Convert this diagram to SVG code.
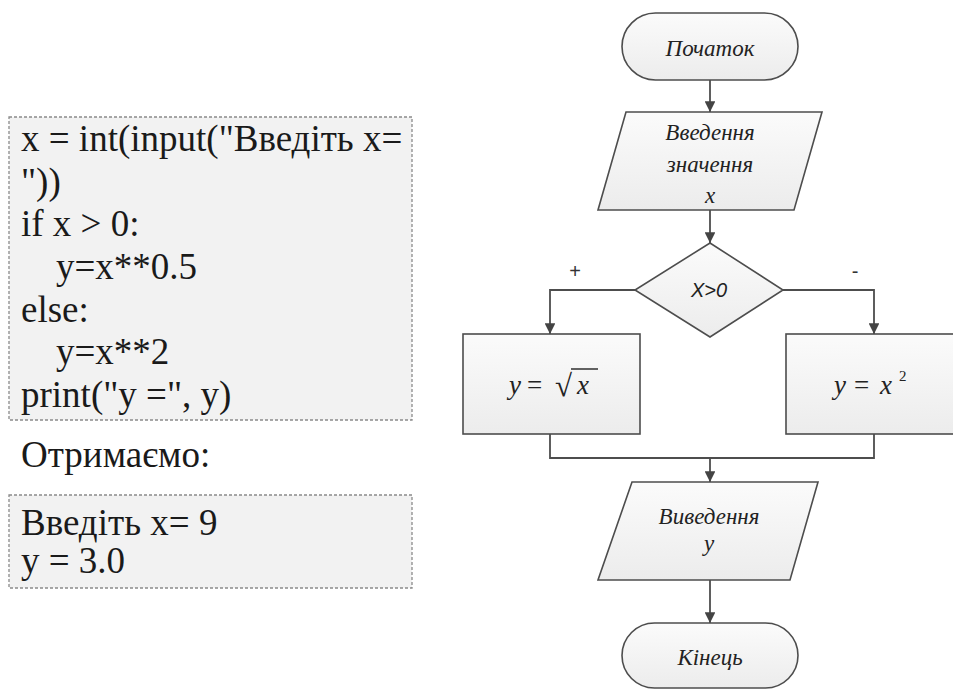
<svg xmlns="http://www.w3.org/2000/svg" width="953" height="690" viewBox="0 0 953 690">
<style>
.code{font-family:'Times New Roman','Liberation Serif',Tinos,'DejaVu Serif',serif;font-size:37px;fill:#1a1a1a}
.box{fill:#f2f2f2;stroke:#8a8a8a;stroke-width:1.3;stroke-dasharray:3 2}
.shape{fill:url(#g);stroke:#4d4d4d;stroke-width:1.6}
.lbl{font-family:'Times New Roman','Liberation Serif',Tinos,'DejaVu Serif',serif;font-style:italic;font-size:23px;fill:#222;text-anchor:middle}
.math{font-family:'Times New Roman','Liberation Serif',Tinos,'DejaVu Serif',serif;font-style:italic;font-size:27px;fill:#222}
.mr{font-family:'Times New Roman','Liberation Serif',Tinos,'DejaVu Serif',serif;font-size:27px;fill:#222}
.sans{font-family:'Liberation Sans',Arial,sans-serif;font-style:italic;font-size:20px;fill:#222;text-anchor:middle}
.sm{font-family:'Liberation Sans',Arial,sans-serif;font-size:20px;fill:#333;text-anchor:middle}
.conn{fill:none;stroke:#4d4d4d;stroke-width:1.8}
</style>
<defs>
<linearGradient id="g" x1="0" y1="0" x2="0" y2="1">
<stop offset="0" stop-color="#fbfbfb"/>
<stop offset="1" stop-color="#ececec"/>
</linearGradient>
<marker id="ah" viewBox="0 0 10 10" refX="10" refY="5" markerWidth="6" markerHeight="6" markerUnits="strokeWidth" orient="auto">
<path d="M0,0 L10,5 L0,10 z" fill="#444"/>
</marker>
</defs>
<rect width="953" height="690" fill="#fff"/>

<g id="code">
<rect class="box" x="9" y="117" width="403" height="303"/>
<text class="code" x="21" y="151">x = int(input("Введіть x=</text>
<text class="code" x="21" y="194">"))</text>
<text class="code" x="21" y="236">if x &gt; 0:</text>
<text class="code" x="56" y="279">y=x**0.5</text>
<text class="code" x="21" y="322">else:</text>
<text class="code" x="56" y="364">y=x**2</text>
<text class="code" x="21" y="407">print("y =", y)</text>
</g>

<g id="result-label">
<text class="code" x="21" y="467">Отримаємо:</text>
</g>

<g id="output">
<rect class="box" x="9" y="495" width="403" height="93"/>
<text class="code" x="21" y="535">Введіть x= 9</text>
<text class="code" x="21" y="573">y = 3.0</text>
</g>

<g id="connectors">
<path class="conn" d="M710,80 V112" marker-end="url(#ah)"/>
<path class="conn" d="M710,210 V243" marker-end="url(#ah)"/>
<path class="conn" d="M635,290 H550 V334" marker-end="url(#ah)"/>
<path class="conn" d="M783,290 H874 V334" marker-end="url(#ah)"/>
<path class="conn" d="M550,434 V458 H874 V434"/>
<path class="conn" d="M710,458 V482" marker-end="url(#ah)"/>
<path class="conn" d="M710,580 V623" marker-end="url(#ah)"/>
<text class="sm" x="575" y="278">+</text>
<text class="sm" x="855" y="278">-</text>
</g>

<g id="start">
<rect class="shape" x="622" y="13" width="176" height="67" rx="33.5"/>
<text class="lbl" x="710" y="56">Початок</text>
</g>

<g id="input">
<polygon class="shape" points="626,112 822,112 794,210 598,210"/>
<text class="lbl" x="710" y="140">Введення</text>
<text class="lbl" x="710" y="172">значення</text>
<text class="lbl" x="710" y="203">x</text>
</g>

<g id="decision">
<polygon class="shape" points="710,243 783,290 710,337 635,290"/>
<text class="sans" x="709" y="297">X&gt;0</text>
</g>

<g id="sqrt-box">
<rect class="shape" x="463" y="334" width="177" height="100"/>
<text class="math" x="509" y="394">y</text>
<text class="mr" x="527" y="394">=</text>
<text class="mr" x="555" y="396" style="font-size:31px">√</text>
<path d="M571,369 H598" stroke="#222" stroke-width="1.4"/>
<text class="math" x="577" y="394">x</text>
</g>

<g id="square-box">
<rect class="shape" x="786" y="334" width="177" height="100"/>
<text class="math" x="834" y="394">y</text>
<text class="mr" x="854" y="394">=</text>
<text class="math" x="880" y="394">x</text>
<text class="mr" x="899" y="381" style="font-size:15px">2</text>
</g>

<g id="output-shape">
<polygon class="shape" points="632,482 818,482 790,580 598,580"/>
<text class="lbl" x="709" y="524">Виведення</text>
<text class="lbl" x="709" y="551">y</text>
</g>

<g id="end">
<rect class="shape" x="622" y="623" width="176" height="65" rx="32.5"/>
<text class="lbl" x="710" y="665">Кінець</text>
</g>
</svg>
